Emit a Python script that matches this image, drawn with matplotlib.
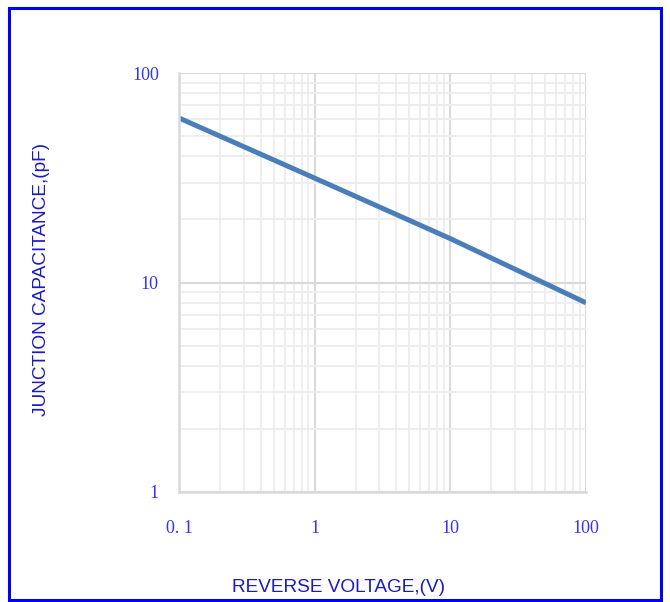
import numpy as np
import matplotlib.pyplot as plt
from matplotlib.patches import Rectangle
from matplotlib.ticker import FixedLocator, FixedFormatter, NullFormatter

# reverse voltage (V) vs junction capacitance (pF)
voltage = [0.1, 1, 10, 100]
capacitance = [61, 31.5, 16.2, 8.0]

x_ticks = [0.1, 1, 10, 100]
x_labels = ['0. 1', '1', '10', '100']
y_ticks = [1, 10, 100]
y_labels = ['1', '10', '100']

fig = plt.figure(figsize=(6.7, 6.02), dpi=100)
ax = fig.add_axes([179/670, 1 - 492/602, (586-179)/670, (492-73)/602])

ax.plot(voltage, capacitance, color='#4a7ebb', lw=3.6, solid_capstyle='butt')
ax.set_xscale('log')
ax.set_yscale('log')
ax.set_xlim(0.1, 100)
ax.set_ylim(1, 100)

ax.xaxis.set_major_locator(FixedLocator(x_ticks))
ax.xaxis.set_major_formatter(FixedFormatter(x_labels))
ax.yaxis.set_major_locator(FixedLocator(y_ticks))
ax.yaxis.set_major_formatter(FixedFormatter(y_labels))
ax.xaxis.set_minor_formatter(NullFormatter())
ax.yaxis.set_minor_formatter(NullFormatter())

ax.grid(which='major', color='#d9d9d9', lw=1.5)
ax.grid(which='minor', color='#eeeeee', lw=1.4)
ax.set_axisbelow(True)
for s in ax.spines.values():
    s.set_visible(False)
ax.spines['left'].set_visible(True)
ax.spines['left'].set_color('#d9d9d9')
ax.spines['left'].set_linewidth(1.8)
ax.spines['bottom'].set_visible(True)
ax.spines['bottom'].set_color('#d9d9d9')
ax.spines['bottom'].set_linewidth(1.8)
ax.tick_params(which='both', length=0)
ax.tick_params(axis='x', pad=20, labelsize=13, labelcolor='#3333ff')
ax.tick_params(axis='y', pad=14.5, labelsize=13, labelcolor='#3333ff')
for lab in ax.get_xticklabels() + ax.get_yticklabels():
    lab.set_family('Liberation Serif')

fig.text(338/670, 1 - 587/602, 'REVERSE VOLTAGE,(V)', ha='center', va='center',
         family='Liberation Sans', fontsize=13.7, color='#1a1acc')
fig.text(42/670, 1 - 280/602, 'JUNCTION CAPACITANCE,(pF)', ha='center', va='center',
         rotation=90, family='Liberation Sans', fontsize=13.7, color='#1a1acc')

fig.patches.append(Rectangle((9/670, 1 - 600/602), 652/670, 592/602,
                             transform=fig.transFigure, fill=False,
                             edgecolor='#0000ff', lw=2.2))

fig.savefig('out.png', dpi=100)
